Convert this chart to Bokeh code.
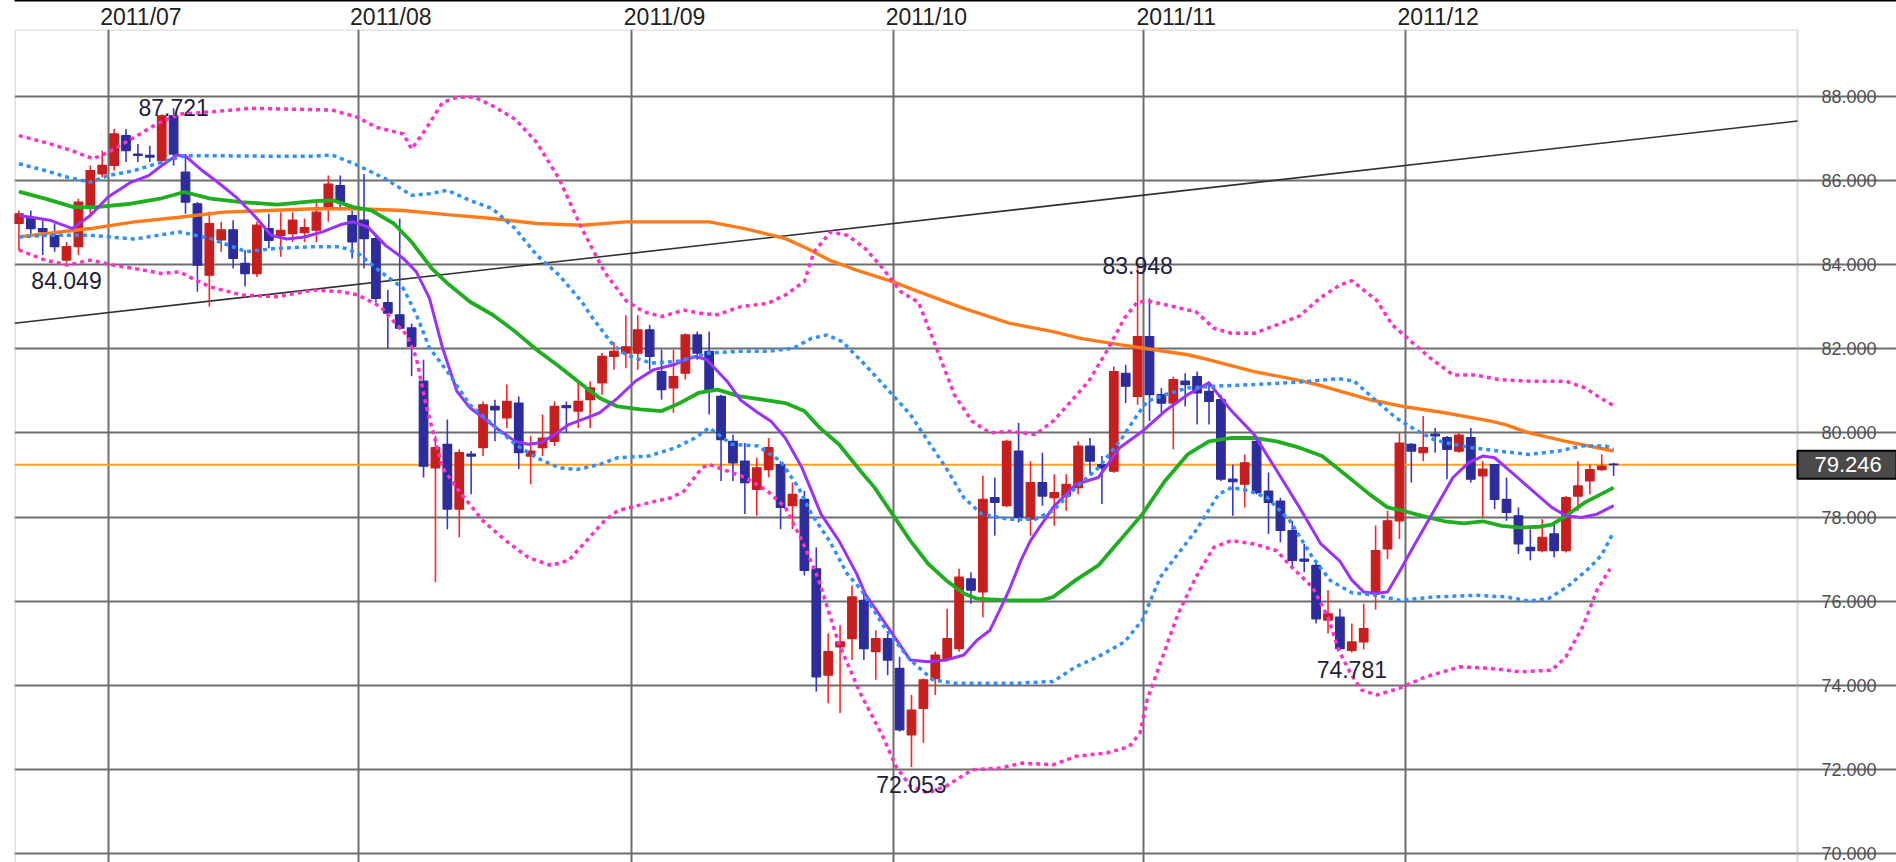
from bokeh.plotting import figure
from bokeh.models import (ColumnDataSource, Range1d, LinearAxis, FixedTicker, Grid,
                          Span, BoxAnnotation)
from bokeh.core.properties import value
from bokeh.embed import file_html
from bokeh.resources import INLINE

# ---------------- data ----------------
month_labels = ["2011/07", "2011/08", "2011/09", "2011/10", "2011/11", "2011/12"]
month_first_bar = [8, 29, 52, 74, 95, 117]          # index of first trading day of each month
price_ticks = [70, 72, 74, 76, 78, 80, 82, 84, 86, 88]
price_tick_labels = ["70.000", "72.000", "74.000", "76.000", "78.000",
                     "80.000", "82.000", "84.000", "86.000", "88.000"]

open_ = [84.98, 85.10, 84.86, 84.70, 84.11, 84.43, 85.41, 86.16, 86.36, 87.07,
         86.63, 86.60, 86.48, 87.54, 86.20, 85.45, 83.75, 84.59, 84.83, 84.03,
         83.79, 84.86, 84.70, 84.74, 84.76, 84.82, 85.37, 85.88, 85.17, 85.06,
         84.62, 83.10, 82.81, 82.50, 81.23, 79.17, 79.73, 78.19, 79.50, 79.65,
         80.63, 80.36, 80.71, 79.45, 79.65, 79.80, 80.65, 80.52, 80.79, 81.19,
         81.82, 81.90, 81.90, 82.45, 81.46, 81.07, 81.42, 82.33, 81.94, 80.87,
         79.80, 79.33, 78.66, 79.13, 79.25, 78.27, 78.42, 76.77, 74.24, 74.91,
         75.11, 76.02, 74.80, 75.11, 74.40, 72.82, 73.45, 74.16, 74.64, 74.87,
         76.53, 76.22, 78.46, 78.27, 79.57, 77.95, 78.82, 78.46, 78.50, 78.70,
         79.69, 79.25, 79.09, 81.42, 80.87, 82.29, 80.91, 80.71, 81.23, 81.34,
         80.99, 80.79, 78.90, 78.78, 79.80, 78.62, 78.38, 77.68, 77.00, 76.85,
         75.55, 75.62, 74.83, 75.03, 76.18, 77.24, 77.91, 79.73, 79.53, 79.97,
         79.89, 79.57, 79.89, 78.98, 79.25, 78.42, 78.03, 77.28, 77.20, 77.60,
         77.20, 78.50, 78.86, 79.13, 79.26]
high = [85.29, 85.29, 85.06, 84.98, 84.54, 85.57, 86.36, 86.71, 87.23, 87.23,
        86.87, 86.83, 87.58, 87.721, 86.63, 85.49, 85.26, 85.02, 85.06, 84.35,
        85.02, 85.21, 85.25, 85.25, 85.10, 85.49, 86.12, 86.12, 85.29, 86.16,
        84.70, 83.40, 85.10, 82.60, 81.74, 79.93, 80.32, 79.61, 79.57, 80.75,
        80.79, 81.15, 80.87, 79.93, 80.44, 80.75, 80.75, 81.23, 81.23, 81.90,
        82.17, 82.80, 82.80, 82.57, 81.98, 81.98, 82.37, 82.41, 82.41, 80.91,
        79.96, 79.76, 79.41, 79.88, 79.33, 78.82, 78.62, 77.28, 75.23, 75.43,
        76.37, 76.18, 75.31, 75.27, 74.68, 73.77, 74.16, 74.80, 75.82, 76.77,
        76.69, 78.98, 78.94, 79.84, 80.24, 79.33, 79.53, 79.02, 79.02, 79.80,
        79.88, 79.45, 81.58, 81.62, 83.948, 83.20, 81.07, 81.34, 81.42, 81.46,
        81.23, 80.91, 79.25, 79.49, 79.88, 79.06, 78.46, 77.91, 77.36, 76.93,
        76.26, 75.82, 75.47, 75.94, 77.80, 78.15, 80.00, 79.76, 80.40, 80.12,
        79.93, 80.00, 80.12, 79.33, 79.25, 78.94, 78.23, 77.71, 77.95, 77.83,
        78.50, 79.33, 79.25, 79.49, 79.29]
low = [84.35, 84.70, 84.23, 84.31, 84.049, 84.23, 85.17, 86.08, 86.24, 86.44,
       86.44, 86.44, 86.36, 86.36, 85.21, 83.36, 83.00, 84.31, 83.91, 83.48,
       83.71, 84.39, 84.19, 84.54, 84.54, 84.54, 85.02, 85.29, 84.15, 83.91,
       83.10, 82.02, 82.45, 81.35, 78.94, 76.45, 77.71, 77.52, 78.54, 79.45,
       79.80, 80.12, 79.14, 78.78, 79.45, 79.69, 80.00, 80.12, 80.12, 80.91,
       81.50, 81.54, 81.50, 81.50, 80.79, 80.48, 81.27, 81.74, 80.44, 78.86,
       78.86, 78.07, 78.03, 78.94, 77.71, 77.71, 76.61, 73.85, 73.57, 73.34,
       74.60, 74.60, 74.13, 74.24, 72.90, 72.053, 72.63, 73.77, 74.60, 74.80,
       75.94, 75.62, 77.56, 78.23, 77.87, 77.56, 78.27, 77.79, 78.15, 78.54,
       79.02, 78.31, 79.05, 80.71, 80.67, 80.28, 80.48, 79.61, 80.63, 80.20,
       80.20, 78.86, 78.03, 78.23, 78.54, 77.60, 77.40, 76.77, 76.69, 75.47,
       75.23, 74.85, 74.781, 74.85, 75.80, 77.00, 77.48, 78.82, 79.33, 79.53,
       78.90, 79.53, 78.82, 77.99, 78.19, 77.91, 77.12, 76.97, 77.16, 77.04,
       77.16, 78.15, 78.54, 79.10, 78.98]
close = [85.21, 84.86, 84.78, 84.43, 84.43, 85.49, 86.24, 86.36, 87.11, 86.71,
         86.60, 86.56, 87.54, 86.63, 85.49, 83.99, 84.98, 84.83, 84.15, 83.79,
         84.94, 84.58, 84.82, 85.06, 84.88, 85.25, 85.92, 85.49, 84.54, 84.62,
         83.20, 82.85, 82.49, 82.06, 79.21, 79.65, 78.19, 79.53, 79.45, 80.67,
         80.55, 80.75, 79.53, 79.57, 79.88, 80.63, 80.60, 80.75, 81.07, 81.82,
         81.94, 82.05, 82.45, 81.82, 81.03, 81.34, 82.33, 81.90, 81.03, 79.84,
         79.29, 78.82, 79.17, 79.65, 78.23, 78.54, 76.73, 74.20, 74.80, 75.03,
         76.10, 74.87, 75.11, 74.60, 72.94, 73.41, 74.13, 74.72, 75.11, 76.57,
         76.26, 78.42, 78.35, 79.80, 77.99, 78.82, 78.50, 78.58, 78.78, 79.69,
         79.33, 79.17, 81.46, 81.11, 82.29, 80.91, 80.71, 81.27, 81.15, 80.95,
         80.75, 78.90, 78.84, 79.29, 78.58, 78.35, 77.68, 76.97, 76.95, 75.58,
         75.70, 74.87, 75.03, 75.35, 77.20, 77.91, 79.76, 79.57, 79.65, 79.93,
         79.61, 79.95, 78.90, 79.14, 78.42, 78.11, 77.36, 77.20, 77.52, 77.20,
         78.46, 78.74, 79.13, 79.21, 79.246]

# indicator lines: (bar index, price)
ma_short = [(0, 85.17), (1, 85.13), (2.6, 85.06), (4.5, 84.86), (6, 85.17), (7.5, 85.61),
            (9.4, 85.96), (10.9, 86.12), (12, 86.36), (13.3, 86.61), (14.1, 86.56),
            (15.4, 86.24), (16.9, 85.92), (18.4, 85.57), (19.9, 85.13), (21.2, 84.70),
            (22.5, 84.61), (24, 84.66), (25.5, 84.78), (27, 84.95), (28.1, 85.02),
            (29.3, 84.90), (30.8, 84.46), (32.3, 84.15), (33.4, 83.83), (34.5, 83.20),
            (35.6, 82.02), (36.8, 80.99), (37.9, 80.60), (39, 80.36), (40.1, 80.12),
            (41.7, 79.80), (42.8, 79.73), (43.9, 79.77), (45, 79.96), (46.2, 80.20),
            (47.7, 80.36), (48.8, 80.48), (50.3, 80.83), (51.8, 81.23), (53.3, 81.50),
            (55, 81.62), (56.8, 81.82), (57.8, 81.74), (59.5, 81.23), (60.6, 80.79),
            (62.1, 80.48), (63.2, 80.28), (64.4, 79.88), (65.8, 79.17), (67.4, 78.07),
            (68.9, 77.44), (70.4, 76.65), (71.1, 76.18), (73, 75.39), (74.9, 74.60),
            (76.4, 74.56), (77.9, 74.60), (79.4, 74.72), (80.5, 75.07), (81.6, 75.31),
            (82.4, 75.78), (83.2, 76.26), (84.2, 76.97), (85, 77.44), (86.9, 78.23),
            (88.8, 78.78), (90.7, 78.94), (92.5, 79.65), (94.4, 80.04), (96.3, 80.52),
            (98.2, 80.91), (100, 81.19), (101.9, 80.52), (103.8, 79.96), (105.7, 79.10),
            (107.6, 78.23), (109.4, 77.36), (111, 76.95), (112, 76.50), (113, 76.22),
            (114, 76.18), (115, 76.22), (116, 76.70), (117.3, 77.36), (118.9, 78.15),
            (120.5, 78.94), (121.8, 79.29), (123, 79.45), (124, 79.41), (125.6, 79.02),
            (127.2, 78.62), (128.8, 78.23), (130, 78.03), (131.3, 77.99), (132.6, 78.07),
            (134, 78.27)]
ma_mid = [(0, 85.74), (2.2, 85.57), (4.6, 85.37), (6.5, 85.37), (9.4, 85.45), (12, 85.58),
          (13.9, 85.73), (16.1, 85.57), (18.7, 85.49), (21.7, 85.43), (24.8, 85.51),
          (26.4, 85.53), (28.1, 85.37), (29.6, 85.29), (31.5, 84.98), (33, 84.54),
          (34.7, 83.91), (36, 83.56), (37.9, 83.12), (39.8, 82.81), (41.7, 82.41),
          (43.5, 81.98), (45.4, 81.58), (47.3, 81.15), (48.8, 80.83), (50.3, 80.63),
          (52.2, 80.56), (54, 80.52), (55.6, 80.72), (57.1, 80.95), (58.7, 81.03),
          (60.6, 80.87), (62.5, 80.79), (64.4, 80.71), (66, 80.52), (67.3, 80.12),
          (68.9, 79.73), (70.7, 79.10), (71.9, 78.70), (73.4, 78.07), (74.9, 77.44),
          (76.4, 76.89), (77.9, 76.50), (79.4, 76.18), (80.5, 76.06), (83.2, 76.02),
          (85.9, 76.02), (86.9, 76.10), (88.8, 76.50), (90.7, 76.85), (92.5, 77.44),
          (94.4, 78.07), (96.3, 78.86), (98.2, 79.49), (100, 79.80), (101.9, 79.88),
          (103.8, 79.88), (105.7, 79.80), (107.6, 79.65), (109.5, 79.45), (111.5, 79.00),
          (113.5, 78.54), (115, 78.23), (116.3, 78.15), (117.9, 78.03), (119.8, 77.90),
          (121.4, 77.85), (123, 77.90), (124.6, 77.79), (126.2, 77.75), (127.8, 77.77),
          (128.8, 77.82), (130, 78.03), (131.6, 78.35), (132.9, 78.54), (134, 78.70)]
ma_long = [(0, 84.66), (2.2, 84.74), (6, 84.86), (9.7, 85.02), (13.5, 85.13), (17.2, 85.25),
           (21, 85.29), (24.8, 85.33), (28.5, 85.33), (32.3, 85.29), (36, 85.19),
           (39.8, 85.10), (43.5, 84.98), (47.3, 84.94), (51, 85.02), (58, 85.02),
           (61, 84.86), (64.4, 84.62), (66.2, 84.39), (68.1, 84.11), (70, 83.91),
           (73.4, 83.60), (75.6, 83.36), (79.4, 82.96), (83.2, 82.61), (86.9, 82.41),
           (89.2, 82.25), (92.5, 82.10), (94.4, 82.02), (98.2, 81.86), (100, 81.74),
           (103.8, 81.46), (107.6, 81.25), (109.6, 81.11), (113.5, 80.79), (116.3, 80.63),
           (119.8, 80.48), (123.7, 80.28), (124.9, 80.20), (126.9, 80.00), (130, 79.80),
           (134, 79.57)]
band1_upper = [(0, 86.40), (2.2, 86.24), (4.1, 86.08), (6, 85.96), (7.5, 86.12), (9.7, 86.24),
               (12, 86.44), (13.9, 86.59), (17.2, 86.59), (21, 86.58), (24.8, 86.58),
               (26.3, 86.61), (28.5, 86.36), (30.8, 86.04), (33, 85.65), (34.5, 85.69),
               (36, 85.77), (37.9, 85.53), (39.8, 85.33), (41.7, 84.86), (43.5, 84.23),
               (45.4, 83.75), (47.3, 83.12), (48, 82.81), (49.9, 82.10), (51, 81.86),
               (53.1, 81.66), (55.3, 81.70), (58, 81.90), (60.6, 81.94), (62.9, 81.94),
               (65.1, 82.02), (66.6, 82.25), (67.9, 82.33), (69.2, 82.17), (71.1, 81.62),
               (73.4, 80.91), (74.9, 80.44), (76.4, 79.80), (77.9, 79.17), (79.4, 78.46),
               (80.9, 78.07), (83.2, 77.95), (85.4, 77.95), (86.9, 78.15), (88.8, 78.70),
               (90.7, 79.17), (92.5, 79.80), (94, 80.44), (94.8, 80.75), (96.3, 80.91),
               (98.2, 81.07), (100.4, 81.11), (103.8, 81.15), (107.6, 81.21), (110.9, 81.29),
               (112.2, 81.23), (114.1, 80.75), (115.7, 80.36), (117.3, 80.08), (118.9, 79.84),
               (120.5, 79.73), (122.1, 79.65), (124.3, 79.57), (126.9, 79.49), (129.4, 79.57),
               (131.3, 79.69), (133.3, 79.69), (134, 79.61)]
band1_lower = [(0, 84.66), (2.2, 84.70), (6, 84.70), (9.7, 84.61), (13.5, 84.78), (16.1, 84.62),
               (19.1, 84.31), (21.7, 84.39), (24.8, 84.43), (27, 84.43), (28.5, 84.27),
               (30.4, 83.83), (32.3, 83.44), (33.4, 82.81), (34.5, 82.02), (36, 81.46),
               (37.9, 80.67), (39.8, 80.20), (41.7, 79.73), (43.5, 79.41), (45.4, 79.17),
               (46.9, 79.13), (48.8, 79.25), (50.3, 79.41), (52.9, 79.45), (55.2, 79.65),
               (56.8, 79.88), (58, 80.12), (59.9, 79.73), (62.1, 79.69), (64, 79.33),
               (65.5, 78.70), (66.6, 78.07), (68.1, 77.44), (69.6, 76.65), (70.8, 76.26),
               (72.7, 75.39), (74.9, 74.60), (76.8, 74.13), (78.6, 74.05), (81.3, 74.05),
               (83.9, 74.05), (86.9, 74.09), (88.8, 74.44), (90.7, 74.68), (92.9, 75.03),
               (94.4, 75.55), (95.9, 76.57), (98.9, 77.68), (100.8, 78.54), (101.9, 78.70),
               (103.4, 78.62), (104.9, 78.46), (106.8, 77.91), (108.7, 77.04), (110.2, 76.49),
               (112, 76.20), (114.1, 76.14), (116, 76.02), (118.9, 76.10), (122.5, 76.14),
               (125, 76.10), (126.9, 76.00), (128.5, 76.06), (130.1, 76.34), (132, 76.80),
               (133, 77.10), (134, 77.65)]
band2_upper = [(0, 87.07), (2.2, 86.91), (4.5, 86.71), (6.2, 86.52), (7.5, 86.67), (9.7, 87.03),
               (11.6, 87.35), (13.5, 87.58), (15.4, 87.62), (17.2, 87.66), (19.5, 87.72),
               (22.5, 87.70), (26.3, 87.68), (28.5, 87.50), (30, 87.27), (32.3, 87.11),
               (33, 86.75), (34.2, 87.23), (35.6, 87.86), (36.8, 87.98), (38.3, 87.98),
               (39.8, 87.78), (41.7, 87.46), (43.5, 86.91), (45.4, 86.04), (47.3, 84.86),
               (49.2, 83.83), (51, 83.15), (52.5, 82.88), (54, 82.77), (55.9, 82.92),
               (57.4, 82.84), (58.7, 82.81), (60.6, 83.00), (62.9, 83.08), (64.4, 83.28),
               (66, 83.60), (66.8, 84.30), (68.2, 84.78), (69.6, 84.70), (71.1, 84.39),
               (72.6, 83.91), (74.1, 83.36), (75.6, 83.10), (77.1, 82.02), (78.6, 80.91),
               (80.1, 80.28), (81.6, 80.00), (83.2, 80.04), (85.4, 79.96), (86.9, 80.28),
               (88.4, 80.75), (89.9, 81.23), (91.4, 81.94), (92.9, 82.73), (94, 83.12),
               (95.2, 83.12), (97.1, 83.00), (98.9, 82.88), (100.4, 82.49), (101.9, 82.37),
               (103.8, 82.37), (105.7, 82.57), (107.6, 82.78), (109.3, 83.20), (110.9, 83.50),
               (112, 83.62), (114.1, 83.15), (115.4, 82.57), (117, 82.17), (118.6, 81.78),
               (120.5, 81.38), (122.4, 81.38), (124.3, 81.27), (126.9, 81.23), (130, 81.23),
               (131.6, 81.07), (132.9, 80.83), (134, 80.65)]
band2_lower = [(0, 84.35), (2.2, 84.11), (4.1, 83.99), (6, 84.11), (7.9, 83.99), (9.7, 83.91),
               (12, 83.79), (13.5, 83.83), (14.6, 83.67), (16.1, 83.47), (18.7, 83.28),
               (21.7, 83.24), (24.8, 83.40), (27, 83.36), (28.5, 83.28), (30.4, 83.00),
               (31.5, 82.65), (32.6, 82.33), (33.4, 81.78), (34.2, 80.67), (35.6, 79.17),
               (37.2, 78.54), (39, 77.91), (40.9, 77.44), (42.8, 77.04), (44.7, 76.85),
               (46.2, 76.97), (47.7, 77.44), (49.2, 77.91), (50.3, 78.15), (52.5, 78.31),
               (54.8, 78.46), (55.9, 78.62), (57.4, 79.17), (58, 79.25), (59.5, 79.10),
               (61, 78.94), (62.9, 78.62), (64.4, 78.23), (65.8, 77.44), (67, 76.65),
               (67.4, 76.33), (68.9, 74.99), (70.7, 73.81), (72.6, 72.78), (73.7, 72.07),
               (74.9, 71.60), (76.4, 71.44), (77.9, 71.60), (80.1, 71.99), (82.4, 72.03),
               (84.3, 72.15), (86.9, 72.11), (88.8, 72.31), (91.4, 72.39), (93.3, 72.54),
               (94.2, 72.86), (94.8, 73.65), (95.9, 74.52), (97.4, 75.70), (98.9, 76.57),
               (100.4, 77.28), (101.9, 77.44), (103.8, 77.36), (105.7, 77.20), (106.8, 76.85),
               (108.7, 76.33), (110, 75.62), (110.9, 74.83), (111.9, 74.28), (112.8, 73.89),
               (114.1, 73.77), (116, 73.93), (118.2, 74.20), (121.1, 74.44), (123.7, 74.40),
               (126.2, 74.32), (128.8, 74.36), (130, 74.68), (131.4, 75.39), (132.6, 76.26),
               (133.7, 76.77)]

trend_slope = 0.0321          # price per bar
trend_intercept = 82.62       # price at bar 0
last_price = 79.246
last_price_text = "79.246"

high_marks_x = [13, 94]
high_marks_y = [87.721, 83.948]
high_marks_text = ["87.721", "83.948"]
low_marks_x = [4, 75, 112]
low_marks_y = [84.049, 72.053, 74.781]
low_marks_text = ["84.049", "72.053", "74.781"]

# ---------------- geometry ----------------
FONT = "Liberation Sans"
PX_PER_BAR = 11.901
PX_PER_UNIT = 42.056
FRAME_W, FRAME_H = 1882, 835
x_lo = -0.37
x_hi = x_lo + FRAME_W / PX_PER_BAR      # frame runs under the price scale
x_border = 149.45                       # right edge of the chart area
y_hi = 88 + 67 / PX_PER_UNIT
y_lo = y_hi - FRAME_H / PX_PER_UNIT

p = figure(frame_width=FRAME_W, frame_height=FRAME_H,
           x_range=Range1d(x_lo, x_hi), y_range=Range1d(y_lo, y_hi),
           x_axis_location=None, y_axis_location=None,
           tools="", toolbar_location=None, output_backend="svg",
           min_border_left=14, min_border_right=0, min_border_top=27, min_border_bottom=0,
           background_fill_color="white", border_fill_color="white")
p.outline_line_color = None
for g in p.grid:
    g.visible = False

month_bounds = [m - 0.5 for m in month_first_bar]
p.add_layout(Grid(dimension=0, ticker=FixedTicker(ticks=month_bounds),
                  grid_line_color="#6e6e6e", grid_line_width=2))
p.add_layout(Grid(dimension=1, ticker=FixedTicker(ticks=price_ticks), bounds=(x_lo, x_border),
                  grid_line_color="#6e6e6e", grid_line_width=2))
p.add_layout(BoxAnnotation(left=x_lo, right=x_border, bottom=y_lo, top=y_hi,
                           fill_alpha=0, line_color="#a0a0a0", line_width=3,
                           level="underlay"))

# month labels on top
label_pos = [b + 2.75 for b in month_bounds]
top_axis = LinearAxis(ticker=FixedTicker(ticks=label_pos),
                      major_label_overrides={t: s for t, s in zip(label_pos, month_labels)},
                      axis_line_color=None, major_tick_line_color=None,
                      minor_tick_line_color=None, major_tick_out=0, major_tick_in=0,
                      major_label_standoff=0,
                      major_label_text_font=FONT, major_label_text_font_size="23px",
                      major_label_text_color="#202020")
p.add_layout(top_axis, "above")
# thin black rule along the very top of the picture
top_rule = LinearAxis(ticker=FixedTicker(ticks=[]), axis_line_color="black",
                      axis_line_width=2, major_tick_line_color=None,
                      minor_tick_line_color=None, major_label_text_font_size="0px",
                      major_tick_out=0, major_tick_in=0, major_label_standoff=0)
p.add_layout(top_rule, "above")

# price scale, drawn at the right edge of the chart area
right_axis = LinearAxis(ticker=FixedTicker(ticks=price_ticks), fixed_location=x_border,
                        major_label_overrides={t: s for t, s in zip(price_ticks, price_tick_labels)},
                        axis_line_color=None, major_tick_line_color=None,
                        minor_tick_line_color=None, major_tick_out=0, major_tick_in=0,
                        major_label_standoff=24,
                        major_label_text_font=FONT, major_label_text_font_size="18px",
                        major_label_text_color="#505050")
p.add_layout(right_axis, "right")

# last price line and trend line
p.add_layout(Span(location=last_price, dimension="width", line_color="#ffa020",
                  line_width=2, level="underlay"))
p.line([x_lo, x_border],
       [trend_intercept + trend_slope * x_lo, trend_intercept + trend_slope * x_border],
       line_color="#303030", line_width=1.6)

# candles
idx = list(range(len(close)))
up = [c >= o for o, c in zip(open_, close)]
src = ColumnDataSource(dict(
    x=idx, high=high, low=low,
    top=[max(o, c) for o, c in zip(open_, close)],
    bottom=[min(o, c) for o, c in zip(open_, close)],
    wick=["#ff2424" if u else "#3838d0" for u in up],
    body=["#c81e1e" if u else "#2c2c9c" for u in up],
))
p.segment(x0="x", y0="low", x1="x", y1="high", color="wick", line_width=1.6, source=src)
p.vbar(x="x", width=0.72, top="top", bottom="bottom", fill_color="body",
       line_color="body", line_width=1.2, source=src)

def draw(points, **kw):
    xs, ys = zip(*points)
    p.line(list(xs), list(ys), **kw)

draw(ma_long, line_color="#ff7a1a", line_width=3.4)
draw(ma_mid, line_color="#1fae1f", line_width=3.8)
draw(ma_short, line_color="#9b30ff", line_width=3.0)
for band, col in ((band1_upper, "#2f8fff"), (band1_lower, "#2f8fff"),
                  (band2_upper, "#ff2fc8"), (band2_lower, "#ff2fc8")):
    draw(band, line_color=col, line_width=3.5, line_dash="4 4")

# high / low marks
p.text(x=high_marks_x, y=high_marks_y, text=high_marks_text,
       text_font=value(FONT), text_font_size="23px", text_color="#1e1e3c",
       text_align="center", text_baseline="alphabetic", y_offset=-1)
p.text(x=low_marks_x, y=low_marks_y, text=low_marks_text,
       text_font=value(FONT), text_font_size="23px", text_color="#1e1e3c",
       text_align="center", text_baseline="top", y_offset=9)

# last price box on the price scale
box_half = 14 / PX_PER_UNIT
p.quad(left=[x_border], right=[x_hi], top=[last_price + box_half],
       bottom=[last_price - box_half], fill_color="#4a4a4a", line_color="black", line_width=2)
p.text(x=[x_border], y=[last_price], text=[last_price_text], x_offset=17,
       text_font=value(FONT), text_font_size="22px", text_color="white",
       text_align="left", text_baseline="middle")

open("out.html", "w").write(file_html(p, INLINE))
